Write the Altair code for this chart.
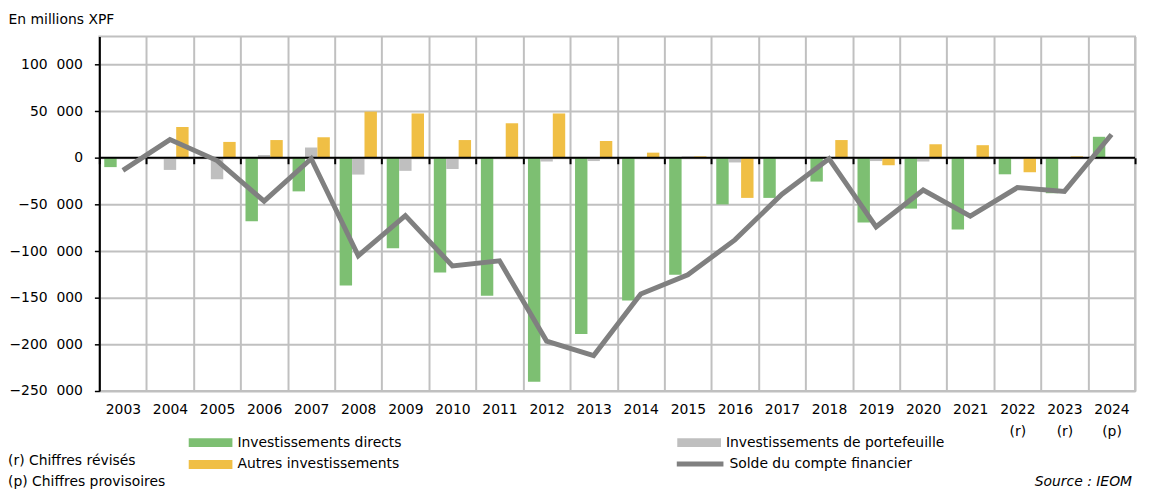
import altair as alt
import pandas as pd

years = [str(y) for y in range(2003, 2025)]
notes = [""] * 19 + ["(r)", "(r)", "(p)"]

series_names = ["Investissements directs", "Investissements de portefeuille", "Autres investissements"]
line_name = "Solde du compte financier"

directs = [-10000, 0, 0, -68000, -36000, -137000, -97000, -123000, -148000, -240000, -189000,
           -153000, -125500, -50000, -43000, -25500, -69500, -54500, -77000, -17700, -38000, 22500]
portefeuille = [0, -13000, -23000, 3000, 11000, -18000, -14000, -12000, 0, -4000, -3500,
                0, 1500, -5000, -1000, 0, -3500, -4000, 0, 0, 0, 0]
autres = [0, 33000, 17000, 19000, 22000, 49500, 47500, 19000, 37000, 47500, 18000,
          5500, 1500, -43000, 0, 19000, -8000, 14500, 13500, -15500, 1500, 0]
solde = [-13500, 19500, -3000, -46500, -1000, -105000, -62000, -116000, -110500, -196500, -212000,
         -146000, -125500, -88000, -39000, -1000, -74000, -34500, -62500, -32000, -36000, 25000]

footnote_texts = ["(r) Chiffres révisés", "(p) Chiffres provisoires"]
source_text = "Source : IEOM"

bar_colors = ["#7dbf72", "#bfbfbf", "#f0bf45"]
line_color = "#808080"
grid_color = "#c0c0c0"
FONT = "DejaVu Sans"

y_min, y_max = -250000, 130000
W, H = 1043, 357

rows = []
for name, vals in zip(series_names, [directs, portefeuille, autres]):
    for yr, v in zip(years, vals):
        rows.append({"year": yr, "series": name, "value": v})
bars_df = pd.DataFrame(rows)
line_df = pd.DataFrame({"year": years, "series": line_name, "value": solde})

# multi-line year labels
label_expr = "datum.value"
for yr, n in zip(years, notes):
    if n:
        label_expr = f"datum.value == '{yr}' ? ['{yr}', '{n}'] : (" + label_expr + ")"

y_scale = alt.Scale(domain=[y_min, y_max], nice=False, zero=False)
y_axis = alt.Axis(
    values=list(range(-250000, 100001, 50000)),
    labelExpr="replace(format(datum.value, ','), ',', '\u2007')",
    labelFontSize=14, labelColor="black", labelPadding=12,
    domainColor="black", domainWidth=2,
    tickColor="black", tickSize=5, tickWidth=1.5,
    grid=True, gridColor=grid_color, gridWidth=2,
    title="En millions XPF", titleAngle=0, titleAlign="left", titleBaseline="middle",
    titleX=-92, titleY=-17, titleFontSize=14, titleFontWeight="normal", titleColor="black",
)

x_scale = alt.Scale(domain=years, paddingInner=0, paddingOuter=0)
x_axis_labels = alt.Axis(
    orient="bottom", title=None, labelAngle=0, labelFontSize=14, labelColor="black",
    labelPadding=12, labelExpr=label_expr, labelLineHeight=22,
    ticks=False, domain=False, grid=True, tickBand="extent",
    gridColor=grid_color, gridWidth=2,
)
zero_offset = -H * (0 - y_min) / (y_max - y_min)
x_axis_zero = alt.Axis(
    orient="bottom", offset=zero_offset, title=None, labels=False, grid=False,
    domain=False, ticks=True, tickBand="extent", tickColor="black", tickSize=6, tickWidth=2,
)

bars = alt.Chart(bars_df).mark_bar(size=12.5).encode(
    x=alt.X("year:N", scale=x_scale, axis=x_axis_labels),
    xOffset=alt.XOffset("series:N", scale=alt.Scale(domain=series_names, paddingInner=0, paddingOuter=0.395)),
    y=alt.Y("value:Q", scale=y_scale, axis=y_axis),
    fill=alt.Fill("series:N", scale=alt.Scale(domain=series_names, range=bar_colors),
                  legend=alt.Legend(
                      orient="none", legendX=88, legendY=402, title=None, columns=2,
                      direction="horizontal",
                      symbolType="M-4.4,-0.9H4.4V0.9H-4.4Z", symbolSize=100,
                      symbolOffset=17, labelOffset=20, symbolStrokeWidth=0, symbolOpacity=1,
                      labelFontSize=14, labelColor="black", columnPadding=275, rowPadding=8,
                      labelLimit=400,
                  )),
)

zero_rule = alt.Chart(pd.DataFrame({"z": [0]})).mark_rule(color="black", strokeWidth=2).encode(
    y=alt.Y("z:Q", scale=y_scale, axis=y_axis)
)

line = alt.Chart(line_df).mark_line(strokeWidth=5, strokeJoin="miter").encode(
    x=alt.X("year:N", scale=x_scale, axis=x_axis_zero),
    y=alt.Y("value:Q", scale=y_scale, axis=y_axis),
    stroke=alt.Stroke("series:N", scale=alt.Scale(domain=[line_name], range=[line_color]),
                      legend=alt.Legend(
                          orient="none", legendX=577, legendY=423, title=None,
                          symbolType="M-4.7,0H4.7", symbolSize=100, symbolStrokeWidth=5,
                          symbolOffset=20.5, labelOffset=22, symbolFillColor="transparent",
                          labelFontSize=14, labelColor="black", labelLimit=400,
                      )),
)

note_r = alt.Chart(pd.DataFrame({"t": [footnote_texts[0]]})).mark_text(
    align="left", baseline="middle", fontSize=14, color="black"
).encode(x=alt.value(-92), y=alt.value(428), text="t:N")
note_p = alt.Chart(pd.DataFrame({"t": [footnote_texts[1]]})).mark_text(
    align="left", baseline="middle", fontSize=14, color="black"
).encode(x=alt.value(-92), y=alt.value(449), text="t:N")
source = alt.Chart(pd.DataFrame({"t": [source_text]})).mark_text(
    align="right", baseline="middle", fontSize=14, fontStyle="italic", color="black"
).encode(x=alt.value(1040), y=alt.value(449), text="t:N")

chart = alt.layer(bars, zero_rule, line, note_r, note_p, source).resolve_axis(
    x="independent"
).resolve_scale(
    fill="independent", stroke="independent"
).properties(
    width=W, height=H, padding={"left": 92, "top": 27, "right": 6, "bottom": 100},
    autosize=alt.AutoSizeParams(type="none"),
).configure(font=FONT).configure_view(stroke=grid_color, strokeWidth=2)

chart.save("out.html", embed_options={"renderer": "svg", "actions": False})
